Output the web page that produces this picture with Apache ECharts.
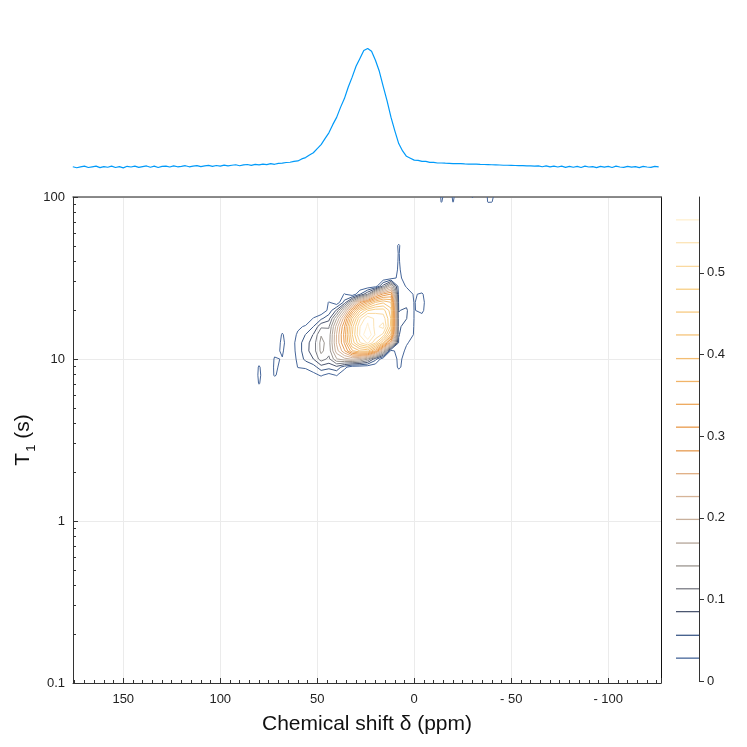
<!DOCTYPE html>
<html>
<head>
<meta charset="utf-8">
<script src="https://cdn.jsdelivr.net/npm/echarts@6/dist/echarts.min.js"></script>
<style>
html, body { margin: 0; padding: 0; background: #fff; }
#chart { width: 747px; height: 747px; }
</style>
</head>
<body>
<div id="chart"></div>
<script>
// grid of the T1 / chemical shift map: columns in ppm, rows in log10(T1 / s), top row first
var ppmCols = [84, 80, 76, 72, 68, 64, 60, 56, 52, 48, 44, 40, 36, 32, 28, 24, 20, 16, 12, 8, 4, 0, -4, -8];
var logT1Rows = [1.75, 1.70, 1.65, 1.60, 1.55, 1.50, 1.45, 1.40, 1.35, 1.30,
                 1.25, 1.20, 1.15, 1.10, 1.05, 1.00, 0.95, 0.90, 0.85, 0.80];

// intensity x 1000
var intensity = [
  [0,  0, 0,  0,  0,  0,  0,  0,  0,   0,   0,   0,   0,   0,   0,   0,   0,   0,   0,  8,  0,  0,  0,  0],
  [0,  0, 0,  0,  0,  0,  0,  0,  0,   0,   0,   0,   0,   0,   0,   0,   0,   0,   1, 32,  2,  0,  0,  0],
  [0,  0, 0,  0,  0,  0,  0,  0,  0,   0,   0,   0,   0,   0,   0,   0,   0,   0,   1, 30,  3,  0,  0,  0],
  [0,  0, 0,  0,  0,  0,  0,  0,  0,   0,   0,   0,   0,   0,   0,   0,   0,   0,   2, 31,  4,  0,  0,  0],
  [0,  0, 0,  0,  0,  0,  0,  0,  0,   0,   0,   0,   0,   0,   0,   0,   1,   2,   2, 33,  8,  0,  0,  0],
  [0,  0, 0,  0,  0,  0,  0,  0,  0,   0,   0,   0,   0,   0,   1,   2,   2,   3,  12, 36, 14,  5,  0,  0],
  [0,  0, 0,  0,  0,  0,  0,  0,  0,   0,   1,   2,   2,   3,   2,   3,   8,  96, 184, 40, 26, 15, 12,  3],
  [0,  0, 0,  0,  0,  0,  0,  0,  1,   2,   3,   4,  30,   3,  54, 113, 231, 288, 312, 46, 38, 26, 31, 10],
  [0,  0, 0,  0,  0,  0,  1,  2,  3,   4,  30,   5,  65, 165, 273, 332, 394, 418, 394, 50, 48, 27, 35, 12],
  [0,  0, 0,  0,  0,  0,  5,  4,  3,   4,  36,  91, 191, 311, 418, 477, 495, 493, 437, 55, 60, 27, 33, 10],
  [0,  0, 0,  0,  0,  2, 12,  4, 30,  50,  75, 168, 269, 400, 502, 559, 530, 525, 450, 60, 57, 27, 20,  4],
  [0,  0, 0,  0, 15,  6, 22, 32, 56, 108, 110, 212, 309, 441, 536, 570, 528, 548, 443, 62, 42, 27, 10,  2],
  [0,  0, 0,  4, 31,  8, 33, 57, 87, 139, 124, 228, 320, 450, 540, 593, 532, 500, 386, 58, 36, 27,  6,  0],
  [0,  0, 0,  8, 35, 10, 40, 73, 99, 150, 128, 230, 314, 434, 505, 544, 484, 395, 245, 52, 31, 18,  3,  0],
  [0,  0, 3, 22, 31, 10, 38, 75, 99, 148, 124, 213, 276, 360, 396, 405, 330, 185,  15, 44, 22, 10,  0,  0],
  [0, 14, 5, 30, 27,  8, 34, 64, 85, 127, 106, 166, 189, 201, 185, 143,  67,   4,   2, 36, 16,  5,  0,  0],
  [0, 31, 8, 31, 24,  5, 29, 33, 43,  73,  66,  77,  38,   8,   5,   4,   3,   0,   0, 34, 12,  2,  0,  0],
  [0, 33,10, 30, 20,  2, 12,  6, 20,  31,  18,  30,   3,   2,   1,   0,   0,   0,   0, 10,  4,  0,  0,  0],
  [0, 30, 8, 15,  8,  0,  5,  2,  3,   5,  10,   6,   1,   0,   0,   0,   0,   0,   0,  2,  0,  0,  0,  0],
  [0, 12, 0,  0,  0,  0,  0,  0,  0,   1,   2,   1,   0,   0,   0,   0,   0,   0,   0,  0,  0,  0,  0,  0]
];

// small patches touching the top edge (T1 = 100 s)
var edgePpmCols = [-10, -12, -14, -16, -18, -20, -22, -24, -26, -28, -30, -32, -34, -36, -38, -40, -42, -44];
var edgeLogT1Rows = [2.00, 1.97, 1.94];
var edgeIntensity = [
  [0, 0, 34, 18, 10, 33, 16, 0, 0, 0, 31, 0, 0, 0, 34, 35, 16, 0],
  [0, 0, 31,  6,  4, 30,  5, 0, 0, 0, 12, 0, 0, 0, 31, 30,  6, 0],
  [0, 0,  0,  0,  0,  0,  0, 0, 0, 0,  0, 0, 0, 0,  0,  0,  0, 0]
];

// contour levels, as marked on the colour bar
var contourLevels = [0.028, 0.056, 0.085, 0.113, 0.141, 0.169, 0.198, 0.226, 0.254, 0.282,
                     0.311, 0.339, 0.367, 0.395, 0.424, 0.452, 0.480, 0.508, 0.537, 0.565];
var levelColors = ['#46669a', '#3d5a88', '#4b5670', '#7a7c84', '#9b958f', '#b4a598', '#c8b09c',
                   '#d6b498', '#e0ae84', '#e69a50', '#e99a4c', '#eea85c', '#f1b468', '#f3bd72',
                   '#f5c47a', '#f7ca82', '#f8cf84', '#fad9a0', '#fce4b6', '#fff0d0'];
var barTicks = [0, 0.1, 0.2, 0.3, 0.4, 0.5];
var t1MinorTicks = [0.2, 0.3, 0.4, 0.5, 0.6, 0.7, 0.8, 0.9, 2, 3, 4, 5, 6, 7, 8, 9,
                    20, 30, 40, 50, 60, 70, 80, 90];

// 1D spectrum above the map
var specPpm = [
  176, 174, 172, 170, 168, 166, 164, 162,
  160, 158, 156, 154, 152, 150, 148, 146,
  144, 142, 140, 138, 136, 134, 132, 130,
  128, 126, 124, 122, 120, 118, 116, 114,
  112, 110, 108, 106, 104, 102, 100, 98,
  96, 94, 92, 90, 88, 86, 84, 82,
  80, 78, 76, 74, 72, 70, 68, 66,
  64, 62, 60, 58, 56, 54, 52, 50,
  48, 46, 44, 42, 40, 38, 36, 34,
  32, 30, 28, 26, 24, 22, 20, 18,
  16, 14, 12, 10, 8, 6, 4, 2,
  0, -2, -4, -6, -8, -10, -12, -14,
  -16, -18, -20, -22, -24, -26, -28, -30,
  -32, -34, -36, -38, -40, -42, -44, -46,
  -48, -50, -52, -54, -56, -58, -60, -62,
  -64, -66, -68, -70, -72, -74, -76, -78,
  -80, -82, -84, -86, -88, -90, -92, -94,
  -96, -98, -100, -102, -104, -106, -108, -110,
  -112, -114, -116, -118, -120, -122, -124, -126
];
var specInt = [
  0.002, -0.006, 0.001, 0.007, -0.004, 0.002, 0.008, -0.005,
  0.004, -0.002, 0.008, -0.004, 0.003, -0.007, 0.006, 0.000,
  0.008, -0.003, 0.004, 0.009, -0.002, 0.007, -0.004, 0.005,
  0.008, 0.000, 0.010, 0.002, 0.006, 0.011, 0.002, 0.008,
  0.012, 0.003, 0.010, 0.014, 0.006, 0.013, 0.008, 0.016,
  0.010, 0.015, 0.019, 0.011, 0.018, 0.021, 0.014, 0.022,
  0.018, 0.025, 0.020, 0.028, 0.023, 0.031, 0.033, 0.038,
  0.040, 0.047, 0.051, 0.068, 0.079, 0.101, 0.120, 0.155,
  0.188, 0.238, 0.287, 0.356, 0.417, 0.501, 0.575, 0.672,
  0.755, 0.846, 0.912, 0.978, 0.996, 0.972, 0.897, 0.804,
  0.677, 0.556, 0.419, 0.304, 0.197, 0.135, 0.090, 0.074,
  0.058, 0.056, 0.047, 0.047, 0.039, 0.039, 0.034, 0.034,
  0.032, 0.031, 0.029, 0.029, 0.028, 0.026, 0.025, 0.024,
  0.024, 0.022, 0.021, 0.020, 0.019, 0.018, 0.017, 0.015,
  0.015, 0.014, 0.013, 0.011, 0.011, 0.009, 0.009, 0.007,
  0.009, 0.002, 0.009, 0.001, 0.008, 0.000, 0.007, -0.003,
  0.006, -0.002, 0.005, -0.004, 0.007, 0.000, 0.004, -0.005,
  0.006, -0.001, 0.005, -0.004, 0.007, 0.000, -0.003, 0.006,
  -0.001, 0.004, -0.005, 0.005, 0.000, -0.003, 0.006, 0.002
];

var FONT = '"Liberation Sans", Arial, sans-serif';

function toField(cols, rows, vals) {
  return {
    cols: cols,
    rows: rows,
    vals: vals.map(function (row) { return row.map(function (v) { return v / 1000; }); })
  };
}
var fields = [
  toField(ppmCols, logT1Rows, intensity),
  toField(edgePpmCols, edgeLogT1Rows, edgeIntensity)
];

// marching squares on a grid, segments chained into polylines
function levelPaths(f, level) {
  var g = f.vals, cols = f.cols, rows = f.rows;
  var segs = [];
  function cross(v1, v2, r1, c1, r2, c2) {
    var t = (level - v1) / (v2 - v1);
    var p = cols[c1] + t * (cols[c2] - cols[c1]);
    var l = rows[r1] + t * (rows[r2] - rows[r1]);
    return [p, Math.pow(10, l)];
  }
  for (var i = 0; i < g.length - 1; i++) {
    for (var j = 0; j < cols.length - 1; j++) {
      var a = g[i][j], b = g[i][j + 1], c = g[i + 1][j + 1], d = g[i + 1][j];
      var e = [];
      if ((a >= level) !== (b >= level)) e[0] = ['h' + i + '_' + j, cross(a, b, i, j, i, j + 1)];
      if ((b >= level) !== (c >= level)) e[1] = ['v' + i + '_' + (j + 1), cross(b, c, i, j + 1, i + 1, j + 1)];
      if ((c >= level) !== (d >= level)) e[2] = ['h' + (i + 1) + '_' + j, cross(c, d, i + 1, j + 1, i + 1, j)];
      if ((d >= level) !== (a >= level)) e[3] = ['v' + i + '_' + j, cross(d, a, i + 1, j, i, j)];
      var idx = [0, 1, 2, 3].filter(function (k) { return e[k]; });
      if (idx.length === 2) {
        segs.push([e[idx[0]], e[idx[1]]]);
      } else if (idx.length === 4) {
        var mid = (a + b + c + d) / 4;
        if ((mid >= level) === (a >= level)) {
          segs.push([e[0], e[1]]); segs.push([e[2], e[3]]);
        } else {
          segs.push([e[3], e[0]]); segs.push([e[1], e[2]]);
        }
      }
    }
  }

  var ends = {};
  segs.forEach(function (s, n) {
    (ends[s[0][0]] = ends[s[0][0]] || []).push(n);
    (ends[s[1][0]] = ends[s[1][0]] || []).push(n);
  });
  var used = {};
  function nextSeg(key) {
    var list = ends[key] || [];
    for (var q = 0; q < list.length; q++) if (!used[list[q]]) return list[q];
    return -1;
  }
  var paths = [];
  segs.forEach(function (s, n) {
    if (used[n]) return;
    used[n] = true;
    var path = [s[0][1], s[1][1]];
    var key = s[1][0], m, t;
    while ((m = nextSeg(key)) >= 0) {
      used[m] = true; t = segs[m];
      if (t[0][0] === key) { path.push(t[1][1]); key = t[1][0]; }
      else { path.push(t[0][1]); key = t[0][0]; }
    }
    key = s[0][0];
    while ((m = nextSeg(key)) >= 0) {
      used[m] = true; t = segs[m];
      if (t[0][0] === key) { path.unshift(t[1][1]); key = t[1][0]; }
      else { path.unshift(t[0][1]); key = t[0][0]; }
    }
    paths.push(path);
  });
  return paths;
}

var series = [{
  type: 'line',
  xAxisIndex: 0,
  yAxisIndex: 0,
  showSymbol: false,
  silent: true,
  lineStyle: { color: '#009af9', width: 1.2 },
  data: specPpm.map(function (p, k) { return [p, specInt[k]]; })
}];

contourLevels.forEach(function (lv, k) {
  var paths = [];
  fields.forEach(function (f) { paths = paths.concat(levelPaths(f, lv)); });
  series.push({
    type: 'lines',
    coordinateSystem: 'cartesian2d',
    xAxisIndex: 1,
    yAxisIndex: 1,
    polyline: true,
    silent: true,
    z: 3,
    lineStyle: { color: levelColors[k], width: 1, opacity: 1 },
    data: paths.map(function (p) { return { coords: p }; })
  });
});

// colour bar level marks
series.push({
  type: 'custom',
  xAxisIndex: 2,
  yAxisIndex: 3,
  silent: true,
  encode: { x: 0, y: 1 },
  data: contourLevels.map(function (v, k) { return [0.5, v, k]; }),
  renderItem: function (params, api) {
    var v = api.value(1);
    var k = api.value(2);
    var p1 = api.coord([0, v]);
    var p2 = api.coord([1, v]);
    return {
      type: 'line',
      shape: { x1: p1[0], y1: p1[1], x2: p2[0], y2: p2[1] },
      style: { stroke: levelColors[k], lineWidth: 1.3 }
    };
  }
});

var chart = echarts.init(document.getElementById('chart'));
var option = {
  animation: false,
  backgroundColor: '#fff',
  textStyle: { fontFamily: FONT },
  grid: [
    { left: 73, top: 40, width: 588, height: 135, outerBoundsMode: 'none' },
    { left: 73, top: 197, width: 588, height: 486, outerBoundsMode: 'none' },
    { left: 676, top: 197, width: 23, height: 484, outerBoundsMode: 'none' }
  ],
  xAxis: [
    { gridIndex: 0, type: 'value', min: -127.2, max: 175.9, inverse: true, show: false },
    {
      gridIndex: 1, type: 'value', min: -127.2, max: 175.9, inverse: true, splitNumber: 6,
      axisLine: { show: true, onZero: false, lineStyle: { color: '#333', width: 1 } },
      axisTick: { show: true, inside: true, length: 5, lineStyle: { color: '#333' } },
      minorTick: { show: true, splitNumber: 10, length: 3, lineStyle: { color: '#333' } },
      axisLabel: {
        fontSize: 13, color: '#222', margin: 10, fontFamily: FONT,
        showMinLabel: false, showMaxLabel: false,
        formatter: function (v) { return v < 0 ? '- ' + (-v) : String(v); }
      },
      splitLine: { show: true, lineStyle: { color: '#ebebeb', width: 1 } },
      name: 'Chemical shift δ (ppm)',
      nameLocation: 'middle',
      nameGap: 31,
      nameMoveOverlap: false,
      nameTextStyle: { fontSize: 21, color: '#111', fontFamily: FONT }
    },
    { gridIndex: 2, type: 'value', min: 0, max: 1, show: false },
    {
      gridIndex: 1, type: 'value', position: 'top', min: -127.2, max: 175.9, inverse: true,
      axisLine: { show: true, onZero: false, lineStyle: { color: '#666', width: 1.5 } },
      axisTick: { show: false }, axisLabel: { show: false }, splitLine: { show: false }
    }
  ],
  yAxis: [
    { gridIndex: 0, type: 'value', min: -0.067, max: 1.067, show: false },
    {
      gridIndex: 1, type: 'log', logBase: 10, min: 0.1, max: 100,
      axisLine: { show: true, onZero: false, lineStyle: { color: '#333', width: 1 } },
      axisTick: { show: true, inside: true, length: 5, lineStyle: { color: '#333' } },
      axisLabel: { fontSize: 13, color: '#222', margin: 8, fontFamily: FONT },
      splitLine: { show: true, lineStyle: { color: '#ebebeb', width: 1 } },
      name: '{t|T}{s|1}{t| (s)}',
      nameLocation: 'middle',
      nameGap: 37,
      nameRotate: 90,
      nameMoveOverlap: false,
      nameTextStyle: {
        rich: {
          t: { fontSize: 21, color: '#111', fontFamily: FONT, lineHeight: 23, verticalAlign: 'top' },
          s: { fontSize: 13, color: '#111', fontFamily: FONT, lineHeight: 13, padding: [12, 0, 0, 1], verticalAlign: 'top' }
        }
      }
    },
    {
      gridIndex: 1, type: 'log', logBase: 10, min: 0.1, max: 100, position: 'left',
      axisLine: { show: false, onZero: false },
      axisLabel: { show: false },
      splitLine: { show: false },
      axisTick: { show: true, inside: true, length: 3, customValues: t1MinorTicks, lineStyle: { color: '#333' } }
    },
    {
      gridIndex: 2, type: 'value', position: 'right', min: 0, max: 0.593, interval: 0.1,
      axisLine: { show: true, onZero: false, lineStyle: { color: '#333', width: 1 } },
      axisTick: { show: true, length: 5, customValues: barTicks, lineStyle: { color: '#333' } },
      axisLabel: { fontSize: 13, color: '#222', margin: 8, fontFamily: FONT, customValues: barTicks },
      splitLine: { show: false }
    },
    {
      gridIndex: 1, type: 'log', logBase: 10, min: 0.1, max: 100, position: 'right',
      axisLine: { show: true, onZero: false, lineStyle: { color: '#111', width: 1 } },
      axisTick: { show: false }, axisLabel: { show: false }, splitLine: { show: false }
    }
  ],
  series: series
};
chart.setOption(option);
</script>
</body>
</html>
